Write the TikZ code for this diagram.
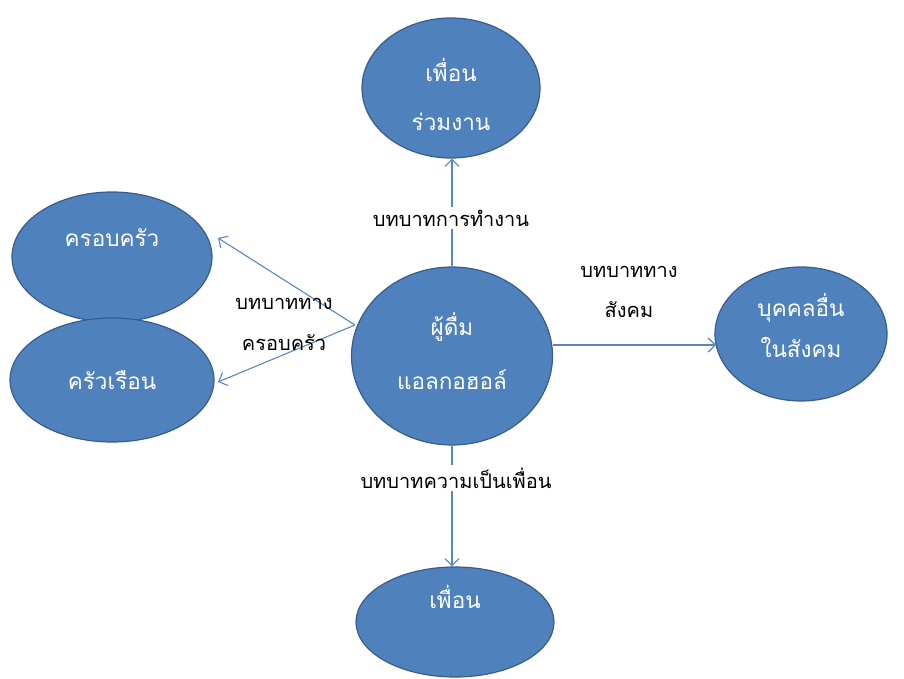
\documentclass[tikz,border=0pt]{standalone}
\usepackage{fontspec}
\newfontfamily\thaifont[Script=Thai]{Loma}
\usetikzlibrary{shapes.geometric,arrows.meta}
\definecolor{ofill}{HTML}{4F81BD}
\definecolor{oline}{HTML}{385D8A}
\definecolor{conn}{HTML}{5B86BD}
\tikzset{
  bubble/.style={ellipse,draw=oline,line width=1.2pt,fill=ofill,inner sep=0pt},
  intext/.style={text=white,font=\thaifont\fontsize{22.5}{26}\selectfont,inner sep=0pt},
  lbl/.style={text=black,font=\thaifont\fontsize{20}{23}\selectfont,inner sep=0pt},
  conn/.style={draw=conn,line width=1.1pt,-{Straight Barb[length=7pt,width=14pt]}}
}
\begin{document}
\begin{tikzpicture}[x=1pt,y=-1pt]
\useasboundingbox (0,0) rectangle (904,679);
% ellipses
\node[bubble,minimum width=178pt,minimum height=140pt] (work) at (451,88) {};
\node[bubble,minimum width=200pt,minimum height=130pt] (fam) at (112,257) {};
\node[bubble,minimum width=204pt,minimum height=124pt] (house) at (112,380) {};
\node[bubble,minimum width=201pt,minimum height=178pt] (c) at (452,356) {};
\node[bubble,minimum width=172pt,minimum height=134pt] (soc) at (801,334) {};
\node[bubble,minimum width=198pt,minimum height=110pt] (fr) at (455,622) {};
% texts in ellipses
\node[intext] (t1) at (451,70) {เพื่อน};
\node[intext] (t2) at (451,122) {ร่วมงาน};
\node[intext] (t3) at (112,238) {ครอบครัว};
\node[intext] (t4) at (112,380) {ครัวเรือน};
\node[intext] (t5) at (452,327) {ผู้ดื่ม};
\node[intext] (t6) at (452,380) {แอลกอฮอล์};
\node[intext] (t7) at (801,308) {บุคคลอื่น};
\node[intext] (t8) at (801,347) {ในสังคม};
\node[intext] (t9) at (455,597) {เพื่อน};
% connector points
\coordinate (cl) at (355,325);
\coordinate (fa) at (218,238);
\coordinate (ho) at (218,382);
\coordinate (cr) at (553,345);
\coordinate (so) at (716,345);
% connectors
\draw[conn] (c.north) -- (c.north |- work.south);
\draw[conn] (cl) -- (fa);
\draw[conn] (cl) -- (ho);
\draw[conn] (cr) -- (so);
\draw[conn] (c.south) -- (c.south |- fr.north);
% labels
\node[lbl,fill=white,inner sep=3pt] (l1) at (451,218) {บทบาทการทำงาน};
\node[lbl] (l2) at (284,304) {บทบาททาง};
\node[lbl] (l3) at (284,343) {ครอบครัว};
\node[lbl] (l4) at (629,272) {บทบาททาง};
\node[lbl] (l5) at (629,310) {สังคม};
\node[lbl,fill=white,inner sep=3pt] (l6) at (456,478) {บทบาทความเป็นเพื่อน};
\end{tikzpicture}
\end{document}
